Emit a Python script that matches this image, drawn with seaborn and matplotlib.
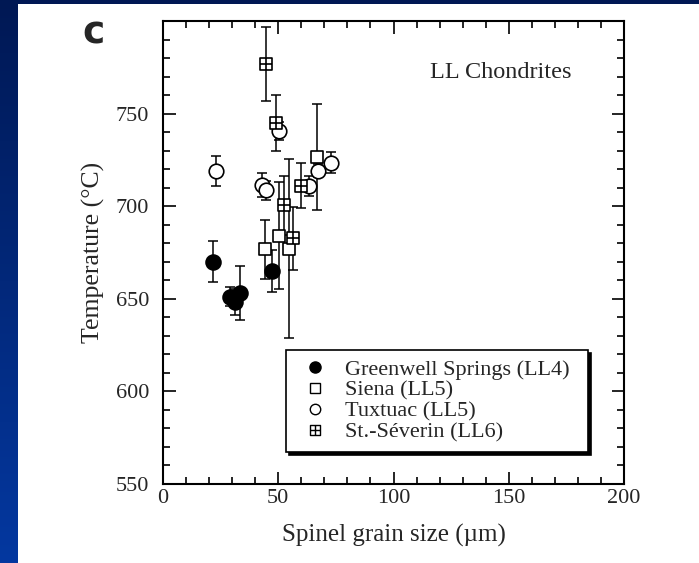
import numpy as np
import pandas as pd
import matplotlib
matplotlib.use("Agg")
import matplotlib.pyplot as plt
import seaborn as sns
from matplotlib.path import Path
from matplotlib.lines import Line2D
from matplotlib.patches import Rectangle

# ---------------- data ----------------
gs_x = [21.8, 29.1, 31.2, 33.5, 47.2]
gs_y = [670.0, 651.0, 648.0, 653.0, 665.0]
gs_e = [11.0, 5.0, 7.0, 14.5, 11.5]

si_x = [44.4, 50.5, 54.7, 66.8]
si_y = [676.6, 684.0, 677.0, 726.5]
si_e = [16.0, 29.0, 48.5, 28.5]

tx_x = [22.9, 42.8, 44.7, 50.2, 63.2, 67.2, 73.1]
tx_y = [719.0, 711.4, 708.5, 740.5, 711.0, 719.0, 723.5]
tx_e = [8.0, 6.5, 5.0, 5.0, 5.5, 3.5, 5.5]

sv_x = [44.5, 49.1, 52.3, 56.5, 60.0]
sv_y = [776.6, 745.0, 700.5, 682.5, 711.0]
sv_e = [20.0, 15.0, 16.0, 17.0, 12.0]

labels = ["Greenwell Springs (LL4)", "Siena (LL5)", "Tuxtuac (LL5)", "St.-Séverin (LL6)"]
x_ticks = [0, 50, 100, 150, 200]
y_ticks = [550, 600, 650, 700, 750]

# ---------------- style ----------------
sns.set_theme(style="white")
plt.rcParams["font.family"] = ["Liberation Serif", "DejaVu Serif"]

W, H = 699, 563
fig = plt.figure(figsize=(W / 100, H / 100), dpi=100)

# blue gradient background with white panel
bg = fig.add_axes([0, 0, 1, 1], zorder=-10)
grad = np.linspace(0, 1, 256).reshape(-1, 1)
top_c = np.array([0, 24, 84]) / 255
bot_c = np.array([4, 56, 160]) / 255
img = top_c[None, None, :] * (1 - grad[:, :, None]) + bot_c[None, None, :] * grad[:, :, None]
bg.imshow(img, aspect="auto", extent=[0, 1, 0, 1], origin="upper")
bg.add_patch(Rectangle((18 / W, 0), 1 - 18 / W, 1 - 4 / H, facecolor="white", edgecolor="none"))
bg.set_xlim(0, 1)
bg.set_ylim(0, 1)
bg.axis("off")

ax = fig.add_axes([163 / W, 1 - 483.6 / H, 461 / W, 462.6 / H])
ax.set_facecolor("white")

# boxed-plus marker for St.-Séverin
box_plus = Path(
    [(-1, -1), (1, -1), (1, 1), (-1, 1), (-1, -1), (-1, 0), (1, 0), (0, -1), (0, 1)],
    [Path.MOVETO, Path.LINETO, Path.LINETO, Path.LINETO, Path.CLOSEPOLY,
     Path.MOVETO, Path.LINETO, Path.MOVETO, Path.LINETO],
)

series = [
    (gs_x, gs_y, gs_e, "o", "black", 115),
    (si_x, si_y, si_e, "s", "white", 65),
    (tx_x, tx_y, tx_e, "o", "white", 110),
    (sv_x, sv_y, sv_e, box_plus, "white", 65),
]

for (xs, ys, es, mk, fc, s), lab in zip(series, labels):
    ax.errorbar(xs, ys, yerr=es, fmt="none", ecolor="black", elinewidth=1.1,
                capsize=3.5, capthick=1.1, zorder=2)
    df = pd.DataFrame({"x": xs, "y": ys})
    sns.scatterplot(data=df, x="x", y="y", marker=mk, s=s, color=fc,
                    edgecolor="black", linewidth=1.2, ax=ax, zorder=3, legend=False)

ax.set_xlim(0, 200)
ax.set_ylim(550, 800)
ax.set_xticks(x_ticks)
ax.set_xticks(np.arange(0, 201, 10), minor=True)
ax.set_yticks(y_ticks)
ax.set_yticks(np.arange(550, 801, 10), minor=True)
ax.tick_params(which="both", direction="in", top=True, right=True, bottom=True, left=True,
               color="black", width=1.2)
ax.tick_params(which="major", length=9)
ax.tick_params(which="minor", length=5)
ax.tick_params(axis="x", which="major", labelsize=16, pad=4)
ax.tick_params(axis="y", which="major", labelsize=16, pad=10)
for sp in ax.spines.values():
    sp.set_color("black")
    sp.set_linewidth(1.5)

ax.set_xlabel("Spinel grain size (µm)", fontsize=18, labelpad=11)
ax.set_ylabel("Temperature (°C)", fontsize=18.5, labelpad=8)

ax.text(0.733, 0.888, "LL Chondrites", transform=ax.transAxes, fontsize=17.5,
        ha="center", va="center")
fig.text(93 / W, 1 - 34 / H, "c", fontsize=27, fontweight="bold",
         family=["DejaVu Sans"], ha="center", va="center")

# legend
handles = [
    Line2D([], [], linestyle="none", marker="o", markersize=8, markerfacecolor="black",
           markeredgecolor="black"),
    Line2D([], [], linestyle="none", marker="s", markersize=6.5, markerfacecolor="white",
           markeredgecolor="black", markeredgewidth=1.0),
    Line2D([], [], linestyle="none", marker="o", markersize=7.5, markerfacecolor="white",
           markeredgecolor="black", markeredgewidth=1.0),
    Line2D([], [], linestyle="none", marker=box_plus, markersize=6.5, markerfacecolor="white",
           markeredgecolor="black", markeredgewidth=1.0),
]
leg = ax.legend(handles, labels, loc="upper left",
                bbox_to_anchor=(0.267, 0.066, 0.655, 0.223), mode="expand",
                borderaxespad=0, frameon=True, fancybox=False,
                shadow={"facecolor": "black", "edgecolor": "black", "alpha": 1.0},
                fontsize=16, labelspacing=0.02, handlelength=1.8, handletextpad=0.45,
                borderpad=0.42)
leg.get_frame().set_edgecolor("black")
leg.get_frame().set_linewidth(1.2)
leg.get_frame().set_facecolor("white")
leg.get_frame().set_alpha(1)

fig.savefig("out.png", dpi=100)
